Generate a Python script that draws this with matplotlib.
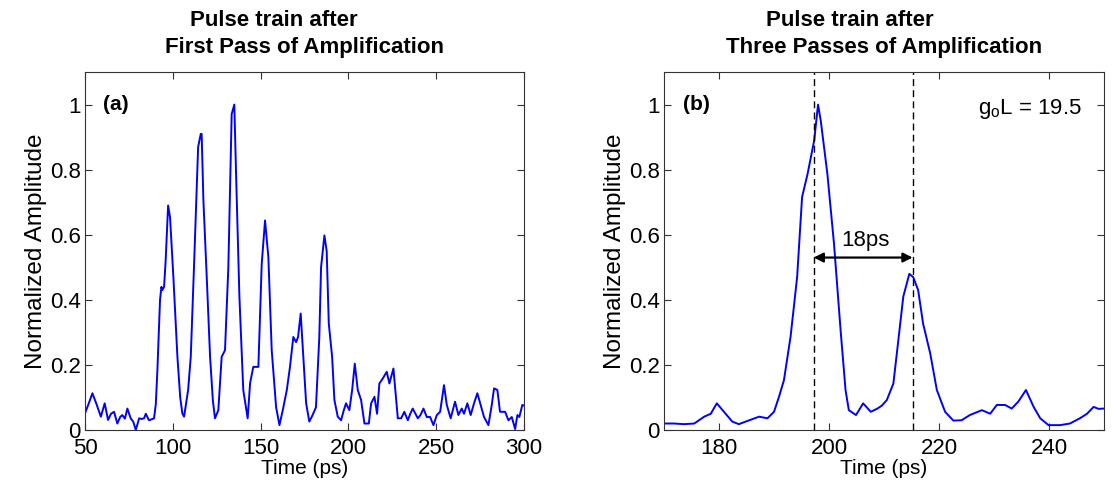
import matplotlib
matplotlib.use("Agg")
import matplotlib.pyplot as plt
from matplotlib import font_manager

# ---- data: first pass pulse train (time in ps, normalized amplitude) ----
t_first = [50, 52, 54.2, 56.5, 59, 61.2, 63.1, 64.8, 66.5, 68.4, 70, 71.2, 72.7, 74.1, 76,
           77.5, 78.9, 80.8, 82.2, 83.6, 84.6, 86.4, 88, 89.3, 90.3, 91.2, 92.7, 93.5, 94.0,
           95.0, 95.9, 97.3, 98.4, 100.3, 102.6, 104.2, 105.4, 106.4, 108.7, 110.2, 112.1,
           114.4, 115.9, 116.4, 117.4, 119.3, 121.2, 122.8, 124.0, 125.9, 127.8, 129.7,
           131.6, 133.5, 135.0, 136.0, 137.9, 140.1, 142.6, 144.0, 145.8, 148.7, 150.6,
           152.5, 154.4, 156.3, 158.8, 160.7, 162.6, 164.9, 166.7, 168.6, 170.2, 171.3,
           172.8, 174.3, 175.9, 177.7, 179.5, 181.5, 183.4, 184.4, 186.3, 187.6, 188.8,
           190.7, 192.0, 193.9, 195.8, 197.3, 198.6, 200.5, 202.1, 203.6, 205.3, 207.2,
           209.1, 211.6, 212.9, 214.8, 216.3, 217.6, 219.5, 221.8, 223.3, 225.6, 226.7,
           228.1, 230.0, 231.8, 233.8, 235.2, 236.6, 239.5, 241.0, 242.7, 244.6, 246.5,
           248.4, 250.3, 252.2, 254.4, 256.0, 258.2, 260.7, 262.6, 264.5, 265.8, 267.7,
           269.6, 271.5, 273.4, 275.3, 277.2, 279.7, 281.6, 282.9, 284.8, 286.3, 289.2,
           291.1, 293.0, 294.9, 296.2, 297.3, 299.0, 300]
a_first = [0.052, 0.08, 0.113, 0.08, 0.041, 0.082, 0.031, 0.05, 0.056, 0.02, 0.04, 0.046,
           0.035, 0.066, 0.036, 0.025, 0.0, 0.036, 0.034, 0.036, 0.05, 0.03, 0.033, 0.036,
           0.08, 0.184, 0.40, 0.44, 0.43, 0.44, 0.52, 0.69, 0.654, 0.47, 0.225, 0.10, 0.051,
           0.041, 0.123, 0.225, 0.51, 0.87, 0.91, 0.91, 0.705, 0.47, 0.225, 0.09, 0.036,
           0.061, 0.225, 0.245, 0.50, 0.971, 1.0, 0.787, 0.41, 0.123, 0.036, 0.144, 0.194,
           0.194, 0.51, 0.644, 0.53, 0.245, 0.07, 0.015, 0.061, 0.123, 0.194, 0.286, 0.27,
           0.286, 0.358, 0.225, 0.082, 0.026, 0.045, 0.07, 0.286, 0.50, 0.598, 0.55, 0.327,
           0.225, 0.092, 0.041, 0.03, 0.06, 0.082, 0.061, 0.123, 0.204, 0.123, 0.092,
           0.02, 0.02, 0.082, 0.102, 0.05, 0.143, 0.158, 0.179, 0.143, 0.189, 0.123,
           0.036, 0.036, 0.056, 0.03, 0.05, 0.066, 0.036, 0.046, 0.066, 0.04, 0.04,
           0.015, 0.046, 0.056, 0.138, 0.077, 0.036, 0.087, 0.046, 0.066, 0.05, 0.082,
           0.046, 0.082, 0.113, 0.077, 0.04, 0.015, 0.077, 0.128, 0.123, 0.056, 0.056,
           0.03, 0.04, 0.003, 0.046, 0.04, 0.077, 0.075]

# ---- data: after three passes ----
t_third = [170, 171.8, 173.6, 175.5, 177.3, 178.5, 179.6, 181.2, 182.4, 183.6, 185.5,
           187.3, 188.8, 190.0, 190.9, 191.8, 193.0, 194.2, 195.1, 196.1, 197.3, 198.0,
           198.5, 199.7, 200.9, 202.1, 203.0, 203.6, 204.9, 206.2, 207.6, 208.8, 209.6,
           210.5, 211.7, 212.6, 213.5, 214.6, 215.3, 216.2, 217.1, 218.4, 219.6, 221.1,
           222.6, 224.1, 225.6, 227.8, 229.3, 230.5, 232.0, 233.2, 234.4, 235.8, 237.2,
           238.4, 239.9, 242.0, 243.8, 245.6, 246.9, 248.1, 249.0, 250.0]
a_third = [0.02, 0.02, 0.018, 0.02, 0.041, 0.05, 0.082, 0.05, 0.026, 0.018, 0.03,
           0.041, 0.036, 0.056, 0.102, 0.153, 0.286, 0.47, 0.716, 0.787, 0.89, 1.0,
           0.95, 0.787, 0.573, 0.307, 0.123, 0.061, 0.046, 0.082, 0.056, 0.066, 0.075,
           0.092, 0.143, 0.276, 0.41, 0.48, 0.47, 0.43, 0.327, 0.235, 0.123, 0.056,
           0.029, 0.03, 0.046, 0.061, 0.05, 0.077, 0.077, 0.066, 0.087, 0.123, 0.071,
           0.036, 0.015, 0.015, 0.02, 0.036, 0.05, 0.071, 0.065, 0.066]

pulse_1 = 197.2          # first pulse position (ps)
pulse_spacing = 18.0     # spacing between the pulses (ps)
gain_text = r"g$_\mathregular{o}$L = 19.5"

titles = [("Pulse train after", "First Pass of Amplification"),
          ("Pulse train after", "Three Passes of Amplification")]

# ---- styling ----
avail = {f.name for f in font_manager.fontManager.ttflist}
base = "Liberation Sans" if "Liberation Sans" in avail else "DejaVu Sans"
plt.rcParams["font.family"] = [base, "DejaVu Sans"]
plt.rcParams["mathtext.fontset"] = "custom"
plt.rcParams["mathtext.rm"] = base

fig = plt.figure(figsize=(11.16, 4.87), dpi=100)
ax1 = fig.add_axes([0.0762, 0.117, 0.3934, 0.735])
ax2 = fig.add_axes([0.595, 0.117, 0.3943, 0.735])

blue = "#0000ff"
frame = "#333333"
for ax in (ax1, ax2):
    for s in ax.spines.values():
        s.set_color(frame)
        s.set_linewidth(0.8)
    ax.tick_params(direction="in", length=5, width=0.8, color=frame,
                   top=True, right=True, labelsize=16)
    ax.tick_params(axis="y", pad=3)
    ax.tick_params(axis="x", pad=6)
    ax.set_ylim(0, 1.1)
    ax.set_yticks([0, 0.2, 0.4, 0.6, 0.8, 1.0])
    ax.set_yticklabels(["0", "0.2", "0.4", "0.6", "0.8", "1"])
    ax.set_xlabel("Time (ps)", fontsize=15, labelpad=0)
    ax.set_ylabel("Normalized Amplitude", fontsize=17.5, labelpad=2)

ax1.plot(t_first, a_first, color=blue, lw=1.4)
ax1.set_xlim(50, 300)
ax1.set_xticks([50, 100, 150, 200, 250, 300])
ax1.text(60.5, 1.0, "(a)", fontsize=15, fontweight="bold", va="center", ha="left")

ax2.plot(t_third, a_third, color=blue, lw=1.4)
ax2.set_xlim(170, 250)
ax2.set_xticks([180, 200, 220, 240])
ax2.text(173.5, 1.0, "(b)", fontsize=15, fontweight="bold", va="center", ha="left")
ax2.text(246.0, 0.972, gain_text, fontsize=16, va="baseline", ha="right")

pulse_2 = pulse_1 + pulse_spacing
for x in (pulse_1, pulse_2):
    ax2.axvline(x, color="black", lw=1.0, ls=(0, (5, 3)))
ax2.annotate("", xy=(pulse_1, 0.53), xytext=(pulse_2, 0.53),
             arrowprops=dict(arrowstyle="<|-|>", color="black", lw=1.6,
                             mutation_scale=14, shrinkA=0, shrinkB=0))
ax2.text(206.6, 0.567, f"{pulse_spacing:.0f}ps", fontsize=16,
         ha="center", va="baseline")

# two-line titles, second line centred over the axes
for ax, (l1, l2), dx in ((ax1, titles[0], -31), (ax2, titles[1], -34)):
    bb = ax.get_position()
    cx = (bb.x0 + bb.x1) / 2
    fig.text(cx + dx / 1116, 1 - 26 / 487, l1, ha="center", va="baseline",
             fontsize=16, fontweight="bold")
    fig.text(cx, 1 - 53 / 487, l2, ha="center", va="baseline",
             fontsize=16, fontweight="bold")

fig.savefig("out.png", dpi=100)
